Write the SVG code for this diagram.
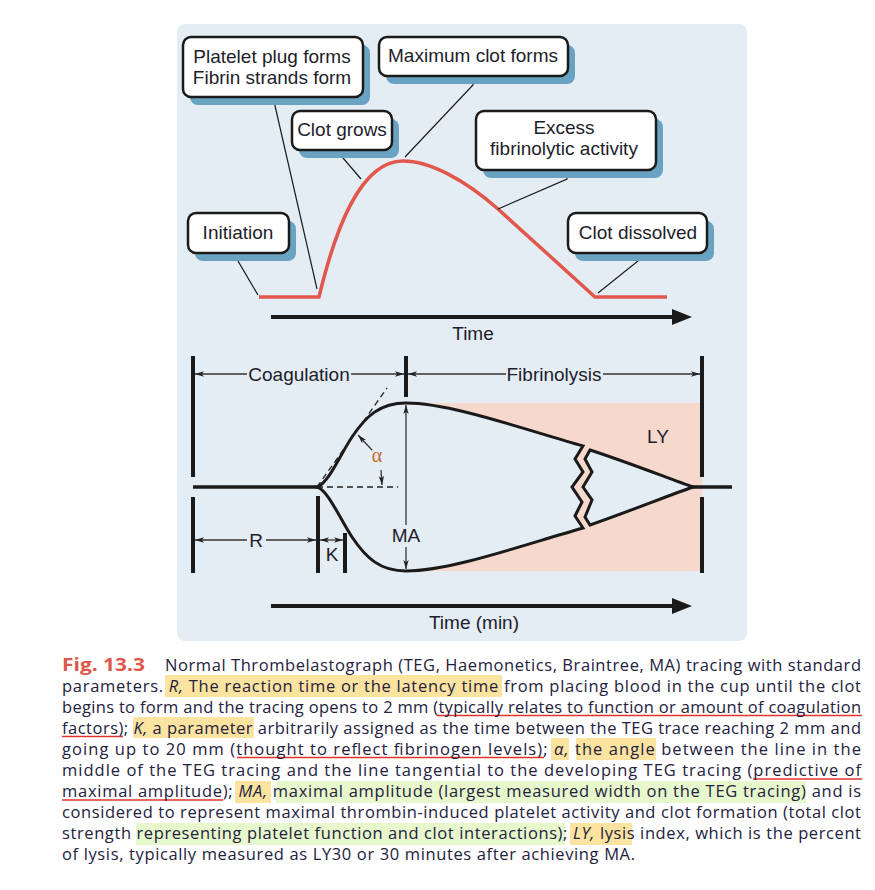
<svg xmlns="http://www.w3.org/2000/svg" width="875" height="890" viewBox="0 0 875 890">
<defs>
<style>
.lbl{font-family:"Liberation Sans",Arial,sans-serif;font-size:19px;fill:#1d1d2b;text-anchor:middle}
.box{fill:#fff;stroke:#1a1a1a;stroke-width:2.5}
.shd{fill:#6aa3c2}
.con{fill:none;stroke:#1a1a1a;stroke-width:1.2}
.bar{stroke:#1a1a1a;stroke-width:4;fill:none}
.dim{stroke:#333;stroke-width:1.3;fill:none}
.dash{stroke:#222;stroke-width:1.3;fill:none;stroke-dasharray:6 4}
.cap{font-family:"Open Sans","Noto Sans",sans-serif;font-size:16.5px;fill:#23213d}
.ul{stroke:#e0342b;stroke-width:1.3}
.yl{fill:#fde3a0}
.gr{fill:#e6f8cc}
</style>
<marker id="ah" viewBox="0 0 10 6" refX="10" refY="3" markerWidth="9" markerHeight="6" markerUnits="userSpaceOnUse" orient="auto-start-reverse"><path d="M0,0 L10,3 L0,6 L2.5,3 z" fill="#222"/></marker>
</defs>
<rect x="177" y="24" width="570" height="617" rx="8" fill="#e4ecf4"/>

<!-- top trace -->
<g id="trace">
<path d="M259,297 L319,297 C335,230 360,161 403,161 C430,161 465,180 498,209 L595,297 L667,297" fill="none" stroke="#e2574c" stroke-width="3.5"/>
</g>
<g id="connectors">
<path class="con" d="M273,97 L317,289"/>
<path class="con" d="M473,76 L473,85 L405,157"/>
<path class="con" d="M343,150 L343,158 L361,179"/>
<path class="con" d="M567,170 L567,179 L498,209"/>
<path class="con" d="M638,253 L638,261 L598,293"/>
<path class="con" d="M238,253 L238,261 L258,295"/>
</g>
<g id="n-platelet">
<rect class="shd" x="190" y="45" width="180" height="60" rx="8"/>
<rect class="box" x="183" y="37" width="180" height="60" rx="8"/>
<text class="lbl" x="272" y="63">Platelet plug forms</text>
<text class="lbl" x="272" y="84">Fibrin strands form</text>
</g>
<g id="n-maxclot">
<rect class="shd" x="386" y="45" width="189" height="39" rx="8"/>
<rect class="box" x="379" y="37" width="189" height="39" rx="8"/>
<text class="lbl" x="473" y="62">Maximum clot forms</text>
</g>
<g id="n-clotgrows">
<rect class="shd" x="299" y="119" width="100" height="39" rx="8"/>
<rect class="box" x="292" y="111" width="100" height="39" rx="8"/>
<text class="lbl" x="342" y="136">Clot grows</text>
</g>
<g id="n-excess">
<rect class="shd" x="483" y="119" width="180" height="59" rx="8"/>
<rect class="box" x="476" y="111" width="180" height="59" rx="8"/>
<text class="lbl" x="564" y="134">Excess</text>
<text class="lbl" x="564" y="155">fibrinolytic activity</text>
</g>
<g id="n-dissolved">
<rect class="shd" x="575" y="221" width="139" height="40" rx="8"/>
<rect class="box" x="568" y="213" width="139" height="40" rx="8"/>
<text class="lbl" x="638" y="239">Clot dissolved</text>
</g>
<g id="n-initiation">
<rect class="shd" x="195" y="221" width="101" height="40" rx="8"/>
<rect class="box" x="188" y="213" width="101" height="40" rx="8"/>
<text class="lbl" x="238" y="239">Initiation</text>
</g>
<g id="time-axis">
<line x1="271" y1="317" x2="676" y2="317" stroke="#1a1a1a" stroke-width="4"/>
<polygon points="672,309 692,317 672,325" fill="#1a1a1a"/>
<text class="lbl" x="473" y="340">Time</text>
</g>

<!-- TEG tracing -->
<g id="teg">
<rect x="406" y="403" width="296" height="168" fill="#f7d8cc"/>
<path d="M317,487 C328,484 340,455 352,437 C366,416 380,403 406,403 C450,403 520,428 583,446 L575,459 L583,472 L572,487 L582,502 L575,516 L583,528 C520,546 450,571 406,571 C380,571 366,558 352,537 C340,519 328,490 317,487 Z" fill="#e4ecf4" stroke="#1a1a1a" stroke-width="3" stroke-linejoin="miter"/>
<path d="M590,450 C630,463 670,479 693,487 C670,495 630,511 590,525 L585,517 L592,500 L583,487 L592,472 L585,459 Z" fill="#e4ecf4" stroke="#1a1a1a" stroke-width="3"/>
<line x1="193" y1="487" x2="319" y2="487" stroke="#1a1a1a" stroke-width="3.5"/>
<line x1="691" y1="487" x2="732" y2="487" stroke="#1a1a1a" stroke-width="3.5"/>
</g>
<g id="bars">
<path class="bar" d="M193,356 V477 M193,497 V573 M406,356 V397 M318,496 V573 M345,533 V573 M702,356 V477 M702,497 V573"/>
</g>
<g id="dimensions">
<path class="dim" d="M195,374 H247" marker-start="url(#ah)"/>
<path class="dim" d="M351,374 H404" marker-end="url(#ah)"/>
<text class="lbl" x="299" y="381">Coagulation</text>
<path class="dim" d="M408,374 H506" marker-start="url(#ah)"/>
<path class="dim" d="M603,374 H700" marker-end="url(#ah)"/>
<text class="lbl" x="554" y="381">Fibrinolysis</text>
<path class="dim" d="M195,540 H247" marker-start="url(#ah)"/>
<path class="dim" d="M266,540 H316" marker-end="url(#ah)"/>
<text class="lbl" x="256" y="547">R</text>
<path class="dim" d="M320,540 H343" marker-start="url(#ah)" marker-end="url(#ah)"/>
<text class="lbl" x="332" y="561">K</text>
<path class="dim" d="M406,405 V525" marker-start="url(#ah)" stroke="#444"/>
<path class="dim" d="M406,547 V569" marker-end="url(#ah)" stroke="#444"/>
<text class="lbl" x="406" y="542">MA</text>
<path class="dash" d="M317,487 L398,487"/>
<path class="dash" d="M317,487 L387,388"/>
<path class="dim" d="M372,450 L358,435" marker-end="url(#ah)"/>
<path class="dim" d="M381,470 L382,485" marker-end="url(#ah)"/>
<text x="377" y="462" font-family="Liberation Serif,serif" font-size="20" fill="#c56a2d" text-anchor="middle">α</text>
<text class="lbl" x="658" y="443">LY</text>
</g>
<g id="time-min-axis">
<line x1="271" y1="606" x2="676" y2="606" stroke="#1a1a1a" stroke-width="4"/>
<polygon points="672,598 692,606 672,614" fill="#1a1a1a"/>
<text class="lbl" x="474" y="629">Time (min)</text>
</g>

<!-- caption -->
<g id="caption">
<rect class="yl" x="165" y="675" width="337" height="22"/>
<rect class="yl" x="133" y="717" width="121" height="21"/>
<rect class="yl" x="551" y="738" width="18" height="22"/>
<rect class="yl" x="576" y="738" width="80" height="22"/>
<rect class="yl" x="235" y="781" width="36" height="22"/>
<rect class="gr" x="276" y="781" width="530" height="22"/>
<rect class="gr" x="136" y="823" width="429" height="22"/>
<rect class="yl" x="570" y="823" width="62" height="22"/>
<line class="ul" x1="437" y1="715.5" x2="862" y2="715.5"/>
<line class="ul" x1="62" y1="736.5" x2="123" y2="736.5"/>
<line class="ul" x1="237" y1="757.5" x2="544" y2="757.5"/>
<line class="ul" x1="753" y1="779" x2="862" y2="779"/>
<line class="ul" x1="62" y1="800" x2="223" y2="800"/>
<text x="62" y="671" font-family="'Open Sans','Noto Sans',sans-serif" font-size="18" font-weight="bold" fill="#e0574a" textLength="83" lengthAdjust="spacingAndGlyphs">Fig. 13.3</text>
<text class="cap" x="165" y="671" textLength="696" lengthAdjust="spacing">Normal Thrombelastograph (TEG, Haemonetics, Braintree, MA) tracing with standard</text>
<text class="cap" x="62" y="692" textLength="799" lengthAdjust="spacing">parameters. <tspan font-style="italic">R,</tspan> The reaction time or the latency time from placing blood in the cup until the clot</text>
<text class="cap" x="62" y="713" textLength="799" lengthAdjust="spacing">begins to form and the tracing opens to 2 mm (typically relates to function or amount of coagulation</text>
<text class="cap" x="62" y="734" textLength="799" lengthAdjust="spacing">factors); <tspan font-style="italic">K,</tspan> a parameter arbitrarily assigned as the time between the TEG trace reaching 2 mm and</text>
<text class="cap" x="62" y="755" textLength="799" lengthAdjust="spacing">going up to 20 mm (thought to reflect fibrinogen levels); <tspan font-style="italic">α,</tspan> the angle between the line in the</text>
<text class="cap" x="62" y="776" textLength="799" lengthAdjust="spacing">middle of the TEG tracing and the line tangential to the developing TEG tracing (predictive of</text>
<text class="cap" x="62" y="797" textLength="799" lengthAdjust="spacing">maximal amplitude); <tspan font-style="italic">MA,</tspan> maximal amplitude (largest measured width on the TEG tracing) and is</text>
<text class="cap" x="62" y="818" textLength="799" lengthAdjust="spacing">considered to represent maximal thrombin-induced platelet activity and clot formation (total clot</text>
<text class="cap" x="62" y="839" textLength="799" lengthAdjust="spacing">strength representing platelet function and clot interactions); <tspan font-style="italic">LY,</tspan> lysis index, which is the percent</text>
<text class="cap" x="62" y="860" textLength="573" lengthAdjust="spacing">of lysis, typically measured as LY30 or 30 minutes after achieving MA.</text>
</g>
</svg>
